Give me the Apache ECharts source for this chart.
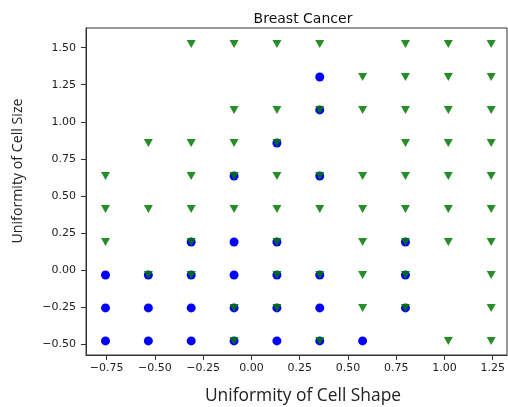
<!DOCTYPE html>
<html>
<head>
<meta charset="utf-8">
<script src="https://cdn.jsdelivr.net/npm/echarts@6/dist/echarts.min.js"></script>
<style>
html, body { margin: 0; padding: 0; background: #fff; }
#chart { width: 508px; height: 407px; }
</style>
</head>
<body>
<div id="chart"></div>
<script>
// grid positions (standardised values)
var xLevels = [-0.756, -0.534, -0.312, -0.090, 0.132, 0.354, 0.576, 0.798, 1.020, 1.242];
var yLevels = [-0.479, -0.256, -0.034, 0.189, 0.412, 0.634, 0.857, 1.080, 1.302, 1.525];
var xTicks = [-0.75, -0.5, -0.25, 0, 0.25, 0.5, 0.75, 1.0, 1.25];
var yTicks = [-0.5, -0.25, 0, 0.25, 0.5, 0.75, 1.0, 1.25, 1.5];

// benign points as [col, row] into the level arrays
var benignIdx = [
	[0,0],[1,0],[2,0],[3,0],[4,0],[5,0],[6,0],
	[0,1],[1,1],[2,1],[3,1],[4,1],[5,1],[7,1],
	[0,2],[1,2],[2,2],[3,2],[4,2],[5,2],[7,2],
	[2,3],[3,3],[4,3],[7,3],
	[3,5],[5,5],
	[4,6],
	[5,7],
	[5,8]
];
// malignant points
var malignantIdx = [
	[3,0],[5,0],[8,0],[9,0],
	[3,1],[4,1],[6,1],[7,1],[9,1],
	[1,2],[2,2],[4,2],[5,2],[6,2],[7,2],[9,2],
	[0,3],[2,3],[4,3],[6,3],[7,3],[8,3],[9,3],
	[0,4],[1,4],[2,4],[3,4],[4,4],[5,4],[6,4],[7,4],[8,4],[9,4],
	[0,5],[2,5],[3,5],[4,5],[5,5],[6,5],[7,5],[8,5],[9,5],
	[1,6],[2,6],[3,6],[4,6],[7,6],[8,6],[9,6],
	[3,7],[4,7],[5,7],[6,7],[7,7],[8,7],[9,7],
	[6,8],[7,8],[8,8],[9,8],
	[2,9],[3,9],[4,9],[5,9],[7,9],[8,9],[9,9]
];

function toPoints(idx) {
	var out = [];
	for (var i = 0; i < idx.length; i++) {
		out.push([xLevels[idx[i][0]], yLevels[idx[i][1]]]);
	}
	return out;
}
function fmt(v) {
	return v.toFixed(2).replace('-', '\u2212');
}

var myChart = echarts.init(document.getElementById('chart'));
var tickFont = { fontFamily: 'DejaVu Sans', fontSize: 11, color: '#222' };
var option = {
	animation: false,
	title: {
		text: 'Breast Cancer',
		left: 298, top: 7, textAlign: 'center',
		textStyle: { fontFamily: 'DejaVu Sans', fontSize: 14, fontWeight: 'normal', color: '#111' }
	},
	grid: {
		left: 86, top: 28, right: 1, bottom: 52,
		show: true, borderColor: '#333', borderWidth: 1
	},
	// axis titles sit a little off the plot centre in the original
	graphic: [{
		type: 'text', x: 303, y: 396,
		style: {
			text: 'Uniformity of Cell Shape', fill: '#222',
			font: '17.4px "Open Sans"', textAlign: 'center', textVerticalAlign: 'middle'
		}
	}, {
		type: 'text', x: 18, y: 171, rotation: Math.PI / 2,
		style: {
			text: 'Uniformity of Cell Size', fill: '#222',
			font: '14.2px "Open Sans"', textAlign: 'center', textVerticalAlign: 'middle'
		}
	}],
	xAxis: {
		type: 'value', min: -0.857, max: 1.324,
		axisLine: { show: true, onZero: false, lineStyle: { color: '#333' } },
		axisTick: { show: true, length: 5, customValues: xTicks, lineStyle: { color: '#333' } },
		axisLabel: Object.assign({ customValues: xTicks, formatter: fmt, margin: 8 }, tickFont),
		splitLine: { show: false }
	},
	yAxis: {
		type: 'value', min: -0.574, max: 1.633,
		axisLine: { show: true, onZero: false, lineStyle: { color: '#333' } },
		axisTick: { show: true, length: 5, customValues: yTicks, lineStyle: { color: '#333' } },
		axisLabel: Object.assign({ customValues: yTicks, formatter: fmt, margin: 10 }, tickFont),
		splitLine: { show: false }
	},
	series: [{
		name: 'benign',
		type: 'scatter',
		symbol: 'circle',
		symbolSize: 9,
		itemStyle: { color: '#0000ff', opacity: 1 },
		data: toPoints(benignIdx)
	}, {
		name: 'malignant',
		type: 'scatter',
		symbol: 'triangle',
		symbolRotate: 180,
		symbolSize: [9, 8],
		itemStyle: { color: '#007a00', opacity: 0.85 },
		data: toPoints(malignantIdx)
	}]
};
myChart.setOption(option);
</script>
</body>
</html>
